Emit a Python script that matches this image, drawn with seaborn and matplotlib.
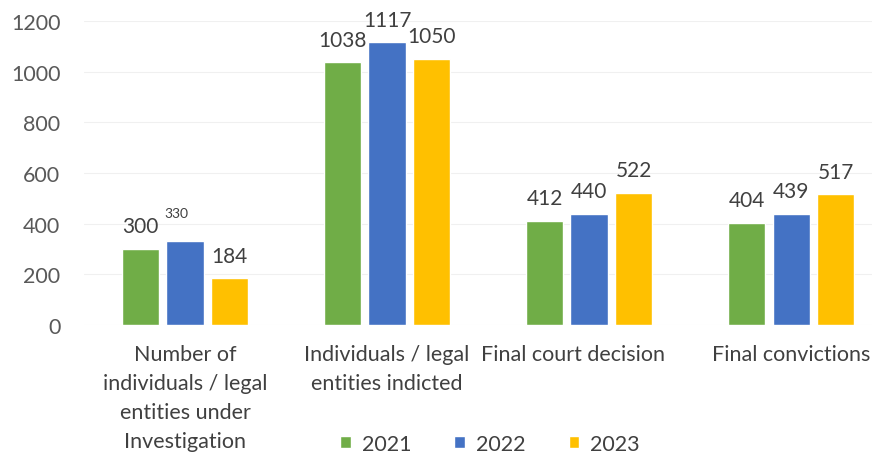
import matplotlib
matplotlib.use("Agg")
import matplotlib.pyplot as plt
import matplotlib.transforms as mtransforms
import seaborn as sns
import pandas as pd
from matplotlib.patches import Patch

categories = ["Number of\nindividuals / legal\nentities under\nInvestigation",
              "Individuals / legal\nentities indicted",
              "Final court decision",
              "Final convictions"]
years = ["2021", "2022", "2023"]
values_2021 = [300, 1038, 412, 404]
values_2022 = [330, 1117, 440, 439]
values_2023 = [184, 1050, 522, 517]
y_ticks = [0, 200, 400, 600, 800, 1000, 1200]

rows = []
for y, vals in zip(years, [values_2021, values_2022, values_2023]):
    for c, v in zip(categories, vals):
        rows.append({"category": c, "year": y, "value": v})
df = pd.DataFrame(rows)

sns.set_theme(style="white")
plt.rcParams["font.family"] = ["Lato", "DejaVu Sans"]

colors = ["#70AD47", "#4472C4", "#FFC000"]
fig = plt.figure(figsize=(8.73, 4.56), dpi=100)
ax = fig.add_axes([84/873, 1 - 326/456, (872-84)/873, (326-22)/456])
sns.barplot(data=df, x="category", y="value", hue="year", palette=colors,
            width=0.66, gap=0.16, ax=ax, legend=False, saturation=1)

ax.set_ylim(0, 1200)
ax.set_xlim(-0.5, 3.4)
ax.set_yticks(y_ticks)
ax.set_yticklabels([str(t) for t in y_ticks], fontsize=15.5, color="#595959")
ax.tick_params(axis="y", length=0, pad=17)
ax.tick_params(axis="x", length=0, pad=14)
ax.set_xticks(range(len(categories)))
ax.set_xticklabels(categories, fontsize=15.5, color="#404040", linespacing=1.55, va="top")
# the third category label sits slightly left in the reference
lbl = ax.get_xticklabels()[2]
lbl.set_transform(lbl.get_transform() + mtransforms.ScaledTranslation(-0.16, 0, fig.dpi_scale_trans))
ax.set_xlabel("")
ax.set_ylabel("")
for s in ax.spines.values():
    s.set_visible(False)
ax.yaxis.grid(True, color="#f0f0f0", linewidth=0.8)
ax.set_axisbelow(True)

for ci, cont in enumerate(ax.containers):
    for bi, bar in enumerate(cont):
        val = int(round(bar.get_height()))
        x = bar.get_x() + bar.get_width() / 2
        fs = 15
        dx, dy = 0, 9
        if ci == 1 and bi == 0:
            fs = 10
            dx, dy = -6, 16
        ax.annotate(str(val), (x, bar.get_height()), xytext=(dx, dy),
                    textcoords="offset points", ha="center", va="bottom",
                    fontsize=fs, color="#404040", annotation_clip=False)

handles = [Patch(facecolor=c, label=y) for c, y in zip(colors, years)]
fig.legend(handles=handles, loc="center", bbox_to_anchor=(490/873, 1 - 445/456),
           ncol=3, frameon=False, fontsize=15.5, handlelength=0.5, handleheight=0.5,
           columnspacing=2.0, handletextpad=0.5, labelcolor="#404040")

fig.savefig("out.png", dpi=100)
